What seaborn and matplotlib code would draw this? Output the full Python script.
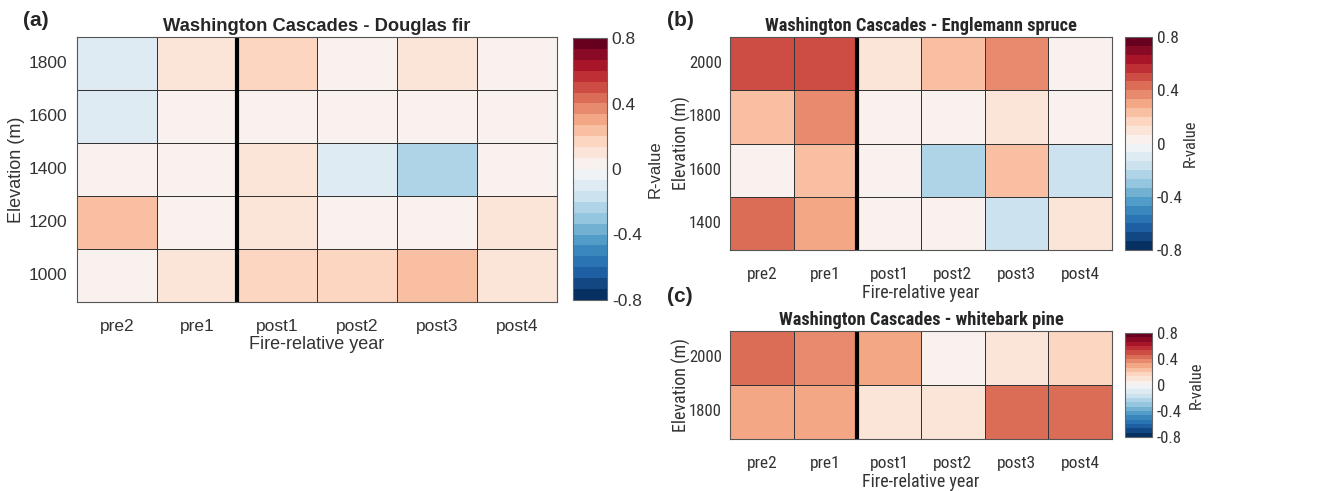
import os
import numpy as np
import pandas as pd
import matplotlib
matplotlib.use("Agg")
import matplotlib.pyplot as plt
from matplotlib import font_manager
from matplotlib.font_manager import FontProperties
import seaborn as sns

years = ["pre2", "pre1", "post1", "post2", "post3", "post4"]

elev_a = [1800, 1600, 1400, 1200, 1000]
vals_a = [
    [-0.08, 0.10, 0.17, 0.00, 0.10, 0.00],
    [-0.08, 0.04, 0.00, 0.04, 0.00, 0.00],
    [0.04, 0.04, 0.10, -0.08, -0.25, 0.04],
    [0.22, 0.04, 0.08, 0.00, 0.00, 0.10],
    [0.00, 0.10, 0.15, 0.15, 0.22, 0.10],
]

elev_b = [2000, 1800, 1600, 1400]
vals_b = [
    [0.50, 0.50, 0.10, 0.22, 0.38, 0.00],
    [0.22, 0.38, 0.00, 0.04, 0.10, 0.04],
    [0.00, 0.20, 0.04, -0.25, 0.22, -0.18],
    [0.45, 0.30, 0.04, 0.04, -0.15, 0.10],
]

elev_c = [2000, 1800]
vals_c = [
    [0.45, 0.38, 0.30, 0.00, 0.10, 0.15],
    [0.30, 0.30, 0.10, 0.08, 0.45, 0.45],
]

titles = ["Washington Cascades - Douglas fir",
          "Washington Cascades - Englemann spruce",
          "Washington Cascades - whitebark pine"]
panel_labels = ["(a)", "(b)", "(c)"]
cbar_ticks = [-0.8, -0.4, 0, 0.4, 0.8]
cbar_ticklabels = ["-0.8", "-0.4", "0", "0.4", "0.8"]

sns.set_style("white")
plt.rcParams["font.family"] = ["Liberation Sans", "DejaVu Sans"]

# look for a condensed sans font for the horizontally squeezed right panels
paths = {os.path.basename(f.fname): f.fname for f in font_manager.fontManager.ttflist}
prefs = [("LiberationSansNarrow-Regular.ttf", "LiberationSansNarrow-Bold.ttf"),
         ("RobotoCondensed-Regular.ttf", "RobotoCondensed-Bold.ttf"),
         ("NotoSans-Condensed.ttf", "NotoSans-CondensedBold.ttf"),
         ("DejaVuSansCondensed.ttf", "DejaVuSansCondensed-Bold.ttf")]
narrow_reg = narrow_bold = None
for r, b in prefs:
    if r in paths:
        narrow_reg = paths[r]
        narrow_bold = paths.get(b, paths[r])
        break

W, H = 1336, 491
fig = plt.figure(figsize=(W / 100, H / 100), dpi=100)

def box(l, r, t, b):
    return [l / W, (H - b) / H, (r - l) / W, (b - t) / H]

cmap = plt.get_cmap("RdBu_r", 24)

# axes box, colorbar box, panel-label xy, ylabel offset (px), colorbar label x
layout = [
    (box(77, 557, 37, 302), box(573, 607, 38, 300), (36, 20), 52, 2.2),
    (box(730, 1112, 37, 250), box(1125, 1152, 37, 250), (680, 20), 39, 2.15),
    (box(730, 1112, 331, 439), box(1125, 1152, 333, 437), (680, 296), 39, 2.35),
]
datasets = [(elev_a, vals_a), (elev_b, vals_b), (elev_c, vals_c)]

def fp(i, size, bold=False):
    if i == 0:
        return FontProperties(family=["Liberation Sans", "DejaVu Sans"], size=size,
                              weight="bold" if bold else "normal")
    if narrow_reg is not None:
        return FontProperties(fname=narrow_bold if bold else narrow_reg, size=size)
    return FontProperties(family=["Liberation Sans", "DejaVu Sans"], size=size * 0.9,
                          weight="bold" if bold else "normal")

for i, ((axpos, cpos, lab_xy, ylab_px, cblab_x), (elev, vals)) in enumerate(zip(layout, datasets)):
    ax = fig.add_axes(axpos)
    cax = fig.add_axes(cpos)
    df = pd.DataFrame(vals, index=elev, columns=years)
    sns.heatmap(df, ax=ax, cbar_ax=cax, cmap=cmap, vmin=-0.8, vmax=0.8,
                linewidths=0.6, linecolor="#333333", cbar=True)
    ax.axvline(2, color="black", lw=3.0)
    for s in ax.spines.values():
        s.set_visible(True)
        s.set_color("#555555")
        s.set_linewidth(0.8)
    ytick_size = 12.5 if i == 0 else 12
    ax.tick_params(axis="both", length=0, colors="#333333")
    ax.tick_params(axis="x", pad=12)
    ax.tick_params(axis="y", pad=7 if i == 0 else 6)
    ax.set_yticklabels([str(e) for e in elev], rotation=0,
                       fontproperties=fp(i, ytick_size))
    ax.set_xticklabels(years, rotation=0, fontproperties=fp(i, 12.5))
    ax.set_xlabel("Fire-relative year", color="#333333", labelpad=2,
                  fontproperties=fp(i, 13))
    ax.set_ylabel("Elevation (m)", color="#333333", fontproperties=fp(i, 13))
    ax.yaxis.set_label_coords(-ylab_px / (axpos[2] * W), 0.5)
    ax.set_title(titles[i], pad=4, fontproperties=fp(i, 13.2, bold=True))
    fig.text(lab_xy[0] / W, 1 - lab_xy[1] / H, panel_labels[i], fontsize=15,
             fontweight="bold", ha="center", va="center",
             family=["Liberation Sans", "DejaVu Sans"])
    cb = ax.collections[0].colorbar
    cb.set_ticks(cbar_ticks)
    cb.set_ticklabels(cbar_ticklabels)
    for t in cax.get_yticklabels():
        t.set_fontproperties(fp(i, 12.5 if i < 2 else 12))
    cb.outline.set_visible(True)
    cb.outline.set_edgecolor("#666666")
    cb.outline.set_linewidth(0.8)
    cax.tick_params(length=3, width=0.6, colors="#333333", direction="in")
    cb.set_label("R-value", color="#333333", fontproperties=fp(i, 12))
    cax.yaxis.set_label_coords(cblab_x, 0.5)

fig.savefig("out.png", dpi=100)
